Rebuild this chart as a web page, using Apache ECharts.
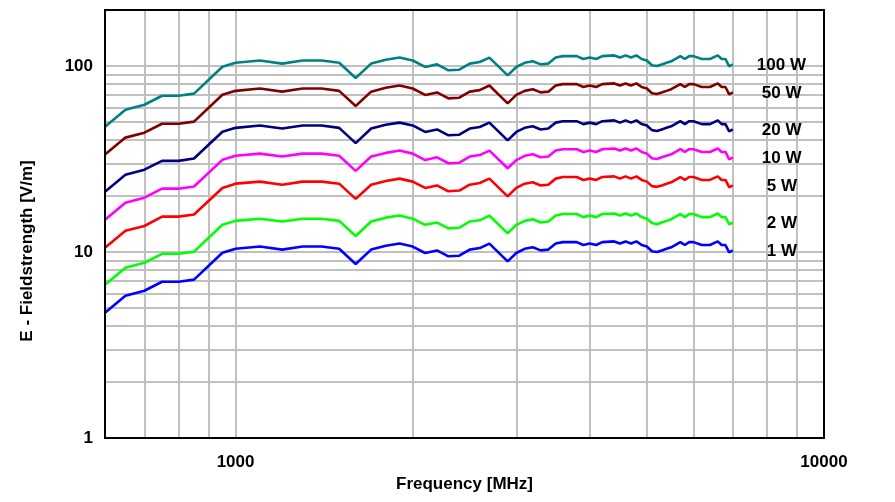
<!DOCTYPE html>
<html>
<head>
<meta charset="utf-8">
<script src="https://cdn.jsdelivr.net/npm/echarts@6/dist/echarts.min.js"></script>
<style>html,body{margin:0;padding:0;background:#fff}#c{width:895px;height:502px}</style>
</head>
<body>
<div id="c"></div>
<script>
// Frequencies [MHz]
const freq = [600, 650, 700, 750, 800, 850, 950, 1000, 1100, 1200, 1300, 1400, 1500, 1600, 1700, 1800, 1900, 2000, 2100, 2200, 2300, 2400, 2500, 2600, 2700, 2900, 3000, 3100, 3200, 3300, 3400, 3500, 3600, 3800, 3900, 4000, 4100, 4200, 4400, 4500, 4600, 4700, 4800, 4900, 5000, 5100, 5200, 5300, 5400, 5500, 5700, 5800, 5900, 6000, 6200, 6400, 6600, 6700, 6800, 6900, 7000];

// Field strength [V/m] per power level
const w100 = [47.2, 58.2, 61.9, 69.2, 69.2, 71.0, 99.0, 104, 107, 103, 107, 107, 104, 86.2, 103, 108, 111, 107, 98.8, 102, 94.8, 95.5, 103, 105, 111, 89.1, 98.8, 104, 106, 102, 103, 111, 113, 113, 109, 111, 109, 113, 114, 111, 114, 111, 114, 109, 107, 101, 100, 102, 104, 106, 113, 109, 113, 113, 109, 109, 114, 109, 109, 99.6, 102];
const w50 = [33.4, 41.2, 43.8, 48.9, 48.9, 50.2, 70.0, 73.5, 75.7, 72.8, 75.7, 75.7, 73.5, 61.0, 72.8, 76.4, 78.5, 75.7, 69.9, 72.1, 67.0, 67.5, 72.8, 74.2, 78.5, 63.0, 69.9, 73.5, 75.0, 72.1, 72.8, 78.5, 79.9, 79.9, 77.1, 78.5, 77.1, 79.9, 80.6, 78.5, 80.6, 78.5, 80.6, 77.1, 75.7, 71.4, 70.7, 72.1, 73.5, 75.0, 79.9, 77.1, 79.9, 79.9, 77.1, 77.1, 80.6, 77.1, 77.1, 70.4, 72.1];
const w20 = [21.1, 26.0, 27.7, 30.9, 30.9, 31.8, 44.3, 46.5, 47.9, 46.1, 47.9, 47.9, 46.5, 38.5, 46.1, 48.3, 49.6, 47.9, 44.2, 45.6, 42.4, 42.7, 46.1, 47.0, 49.6, 39.8, 44.2, 46.5, 47.4, 45.6, 46.1, 49.6, 50.5, 50.5, 48.7, 49.6, 48.7, 50.5, 51.0, 49.6, 51.0, 49.6, 51.0, 48.7, 47.9, 45.2, 44.7, 45.6, 46.5, 47.4, 50.5, 48.7, 50.5, 50.5, 48.7, 48.7, 51.0, 48.7, 48.7, 44.5, 45.6];
const w10 = [14.9, 18.4, 19.6, 21.9, 21.9, 22.5, 31.3, 32.9, 33.8, 32.6, 33.8, 33.8, 32.9, 27.3, 32.6, 34.1, 35.1, 33.8, 31.2, 32.3, 30.0, 30.2, 32.6, 33.2, 35.1, 28.2, 31.2, 32.9, 33.5, 32.3, 32.6, 35.1, 35.7, 35.7, 34.5, 35.1, 34.5, 35.7, 36.0, 35.1, 36.0, 35.1, 36.0, 34.5, 33.8, 31.9, 31.6, 32.3, 32.9, 33.5, 35.7, 34.5, 35.7, 35.7, 34.5, 34.5, 36.0, 34.5, 34.5, 31.5, 32.3];
const w5 = [10.55, 13.0, 13.8, 15.5, 15.5, 15.9, 22.1, 23.3, 23.9, 23.0, 23.9, 23.9, 23.3, 19.3, 23.0, 24.1, 24.8, 23.9, 22.1, 22.8, 21.2, 21.4, 23.0, 23.5, 24.8, 19.9, 22.1, 23.3, 23.7, 22.8, 23.0, 24.8, 25.3, 25.3, 24.4, 24.8, 24.4, 25.3, 25.5, 24.8, 25.5, 24.8, 25.5, 24.4, 23.9, 22.6, 22.4, 22.8, 23.3, 23.7, 25.3, 24.4, 25.3, 25.3, 24.4, 24.4, 25.5, 24.4, 24.4, 22.3, 22.8];
const w2 = [6.67, 8.23, 8.75, 9.78, 9.78, 10.04, 14.0, 14.7, 15.1, 14.6, 15.1, 15.1, 14.7, 12.2, 14.6, 15.3, 15.7, 15.1, 14.0, 14.4, 13.4, 13.5, 14.6, 14.8, 15.7, 12.6, 14.0, 14.7, 15.0, 14.4, 14.6, 15.7, 16.0, 16.0, 15.4, 15.7, 15.4, 16.0, 16.1, 15.7, 16.1, 15.7, 16.1, 15.4, 15.1, 14.3, 14.1, 14.4, 14.7, 15.0, 16.0, 15.4, 16.0, 16.0, 15.4, 15.4, 16.1, 15.4, 15.4, 14.1, 14.4];
const w1 = [4.72, 5.82, 6.19, 6.92, 6.92, 7.10, 9.90, 10.4, 10.7, 10.3, 10.7, 10.7, 10.4, 8.62, 10.3, 10.8, 11.1, 10.7, 9.88, 10.2, 9.48, 9.55, 10.3, 10.5, 11.1, 8.91, 9.88, 10.4, 10.6, 10.2, 10.3, 11.1, 11.3, 11.3, 10.9, 11.1, 10.9, 11.3, 11.4, 11.1, 11.4, 11.1, 11.4, 10.9, 10.7, 10.1, 10.0, 10.2, 10.4, 10.6, 11.3, 10.9, 11.3, 11.3, 10.9, 10.9, 11.4, 10.9, 10.9, 9.96, 10.2];

const seriesNames = ['100 W', '50 W', '20 W', '10 W', '5 W', '2 W', '1 W'];
const seriesValues = [w100, w50, w20, w10, w5, w2, w1];
const seriesColors = ['#008080', '#800000', '#000080', '#ff00ff', '#ff0000', '#00ff00', '#0000ff'];
const labelDistance = [24, 29, 29, 29, 34, 34, 34];

// Axis ticks and grid lines
const xTickLabels = [1000, 10000];
const yTickLabels = [1, 10, 100];
const xGridValues = [700, 800, 900, 1000, 2000, 3000, 4000, 5000, 6000, 7000, 8000, 9000];
const yGridValues = [2, 3, 4, 5, 6, 7, 8, 9, 10, 20, 30, 40, 50, 60, 70, 80, 90, 100];

const FONT = "'Liberation Sans', Arial, sans-serif";
function isTick(v, list) {
  return list.some(t => Math.abs(Math.log10(v) - Math.log10(t)) < 1e-6);
}

const chart = echarts.init(document.getElementById('c'), null, {renderer: 'canvas'});

const series = seriesNames.map((name, k) => ({
  name: name,
  type: 'line',
  z: 3,
  data: freq.map((f, i) => [f, seriesValues[k][i]]),
  showSymbol: false,
  symbol: 'none',
  lineStyle: {color: seriesColors[k], width: 2.6},
  itemStyle: {color: seriesColors[k]},
  endLabel: {
    show: true,
    formatter: name,
    distance: labelDistance[k],
    offset: [0, 1],
    color: '#000',
    fontFamily: FONT,
    fontWeight: 'bold',
    fontSize: 17
  },
  silent: true
}));

series.unshift({
  type: 'line',
  z: 1,
  data: [],
  silent: true,
  markLine: {
    silent: true,
    z: 1,
    symbol: ['none', 'none'],
    label: {show: false},
    lineStyle: {color: '#c0c0c0', width: 2, type: 'solid'},
    emphasis: {disabled: true},
    data: xGridValues.map(v => ({xAxis: v})).concat(yGridValues.map(v => ({yAxis: v})))
  }
});

chart.setOption({
  animation: false,
  backgroundColor: '#fff',
  grid: {left: 105, right: 71, top: 10, bottom: 64, show: true, borderColor: '#000', borderWidth: 2, backgroundColor: 'transparent', z: 4},
  graphic: [{
    type: 'text',
    left: 19,
    top: 'middle',
    rotation: Math.PI / 2,
    x: 0, y: 0,
    style: {
      text: 'E - Fieldstrength [V/m]',
      fill: '#000',
      font: "bold 17px 'Liberation Sans', Arial, sans-serif",
      textAlign: 'center',
      textVerticalAlign: 'middle'
    }
  }],
  xAxis: {
    type: 'log', logBase: 10, min: 600, max: 10000,
    name: 'Frequency [MHz]', nameLocation: 'middle', nameGap: 38,
    nameTextStyle: {fontFamily: FONT, fontWeight: 'bold', fontSize: 17, color: '#000'},
    axisLine: {show: true, lineStyle: {color: '#000', width: 2}},
    axisTick: {show: true, inside: true, length: 3, lineStyle: {color: '#000', width: 2}},
    splitLine: {show: false},
    minorTick: {show: false},
    axisLabel: {
      margin: 16, color: '#000', fontFamily: FONT, fontWeight: 'bold', fontSize: 17,
      showMinLabel: false,
      formatter: v => isTick(v, xTickLabels) ? String(Math.round(v)) : ''
    }
  },
  yAxis: {
    type: 'log', logBase: 10, min: 1, max: 200,
    axisLine: {show: true, lineStyle: {color: '#000', width: 2}},
    axisTick: {show: true, inside: true, length: 4, lineStyle: {color: '#000', width: 2}},
    splitLine: {show: false},
    axisLabel: {
      margin: 12, color: '#000', fontFamily: FONT, fontWeight: 'bold', fontSize: 17,
      showMaxLabel: false,
      formatter: v => isTick(v, yTickLabels) ? String(Math.round(v)) : ''
    }
  },
  series: series
});
</script>
</body>
</html>
